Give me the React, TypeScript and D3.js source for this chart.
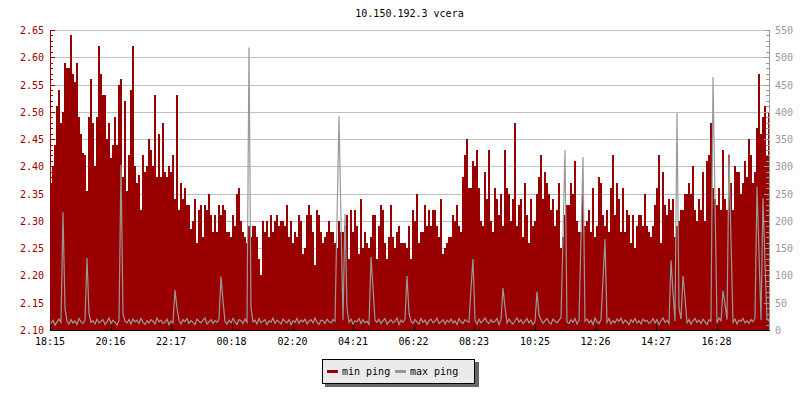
import React from "react";
import * as d3 from "d3";

const title = "10.150.192.3 vcera";
const tickLabels = ["18:15","20:16","22:17","00:18","02:20","04:21","06:22","08:23","10:25","12:26","14:27","16:28"];
const tickMinutes = [0,121,242,363,485,606,727,848,970,1091,1212,1333];
const stepMinutes = 4;

// min ping (ms), one value per 4 minutes
const minPing = [
2.37,2.40,2.44,2.51,2.54,2.48,2.50,2.59,2.58,2.58,2.64,2.57,2.555,2.59,2.49,2.46,2.425,2.42,2.355,2.49,
2.56,2.48,2.40,2.49,2.62,2.57,2.53,2.53,2.45,2.48,2.415,2.44,2.49,2.44,2.55,2.56,2.38,2.52,2.355,2.42,
2.54,2.62,2.40,2.37,2.385,2.32,2.42,2.39,2.40,2.45,2.43,2.40,2.53,2.38,2.46,2.38,2.48,2.39,2.38,2.40,
2.39,2.42,2.34,2.53,2.32,2.37,2.34,2.36,2.33,2.33,2.285,2.30,2.34,2.26,2.32,2.33,2.27,2.33,2.32,2.35,
2.31,2.28,2.31,2.28,2.33,2.31,2.33,2.32,2.28,2.28,2.27,2.31,2.29,2.35,2.36,2.30,2.28,2.27,2.26,2.29,
2.27,2.29,2.29,2.27,2.23,2.20,2.30,2.28,2.30,2.27,2.31,2.28,2.30,2.31,2.29,2.30,2.30,2.29,2.33,2.27,
2.30,2.26,2.28,2.27,2.31,2.30,2.24,2.25,2.31,2.33,2.31,2.28,2.22,2.32,2.31,2.28,2.26,2.27,2.28,2.30,
2.28,2.28,2.26,2.25,2.30,2.28,2.28,2.29,2.31,2.23,2.32,2.28,2.32,2.29,2.24,2.34,2.25,2.28,2.26,2.25,
2.27,2.31,2.31,2.23,2.29,2.33,2.32,2.26,2.23,2.27,2.33,2.27,2.25,2.28,2.29,2.26,2.26,2.26,2.25,2.29,
2.23,2.32,2.30,2.35,2.26,2.28,2.28,2.33,2.29,2.32,2.29,2.32,2.32,2.29,2.27,2.34,2.24,2.25,2.26,2.27,
2.27,2.31,2.30,2.33,2.29,2.28,2.38,2.42,2.45,2.36,2.36,2.41,2.40,2.43,2.36,2.30,2.29,2.39,2.34,2.43,
2.30,2.28,2.36,2.34,2.31,2.35,2.29,2.43,2.36,2.35,2.30,2.34,2.48,2.29,2.33,2.34,2.27,2.37,2.31,2.26,
2.34,2.29,2.30,2.35,2.38,2.42,2.34,2.39,2.37,2.35,2.32,2.34,2.29,2.32,2.37,2.25,2.27,2.31,2.33,2.33,
2.37,2.35,2.41,2.30,2.28,2.28,2.35,2.29,2.30,2.32,2.28,2.36,2.27,2.29,2.38,2.37,2.31,2.29,2.32,2.28,
2.36,2.42,2.31,2.37,2.34,2.28,2.36,2.28,2.32,2.31,2.26,2.31,2.25,2.29,2.31,2.31,2.29,2.35,2.29,2.28,
2.27,2.29,2.33,2.36,2.42,2.26,2.39,2.33,2.31,2.34,2.32,2.34,2.27,2.29,2.30,2.32,2.32,2.35,2.35,2.37,
2.35,2.40,2.32,2.30,2.34,2.32,2.39,2.30,2.41,2.42,2.48,2.36,2.34,2.33,2.36,2.32,2.43,2.34,2.32,2.42,
2.37,2.32,2.40,2.39,2.39,2.35,2.37,2.41,2.38,2.45,2.42,2.37,2.39,2.47,2.57,2.46,2.49,2.51,2.42,2.50
];

// max ping (ms), one value per 4 minutes
const maxPing = [
12,18,9,15,20,14,216,40,16,11,19,13,17,10,21,15,12,18,132,30,
14,17,11,20,13,16,19,10,15,22,12,18,14,9,17,303,30,16,13,19,
11,20,15,18,12,21,14,10,17,13,19,16,11,22,15,18,12,14,20,10,
16,13,73,40,18,11,19,15,21,12,17,14,10,20,16,13,18,22,11,15,
19,12,17,14,20,98,53,16,11,18,13,21,15,10,19,17,12,20,14,518,
40,15,18,11,21,13,16,19,10,17,14,22,12,18,15,11,20,16,13,19,
10,17,14,21,12,18,15,20,11,16,19,13,22,14,10,18,17,12,20,15,
13,19,16,200,392,200,18,213,40,14,20,11,17,15,21,12,19,13,16,10,
134,77,18,14,20,12,17,21,11,15,19,13,16,22,10,18,14,20,99,31,
16,12,19,15,11,21,14,18,10,17,20,13,16,22,12,15,19,11,18,14,
20,13,17,10,21,15,12,19,16,14,77,130,18,11,20,13,17,22,15,12,
19,14,16,21,10,18,77,42,13,20,15,11,17,22,14,19,12,16,21,13,
18,10,15,70,27,19,12,17,21,14,11,20,16,13,18,22,170,330,15,12,
19,14,21,11,17,170,317,16,20,13,18,10,22,15,12,19,93,167,14,21,
11,17,13,20,16,22,12,18,15,10,19,14,21,13,17,11,20,16,18,12,
15,21,13,19,10,17,22,14,18,12,128,70,16,398,40,20,99,60,13,19,
11,17,21,14,18,12,20,15,10,19,16,464,242,13,22,17,72,48,19,323,
165,14,20,11,18,16,21,13,17,12,19,15,22,263,141,18,242,123,20,16
];

const leftTicks = [2.10,2.15,2.20,2.25,2.30,2.35,2.40,2.45,2.50,2.55,2.60,2.65];
const rightTicks = [0,50,100,150,200,250,300,350,400,450,500,550];
const legendItems = ["min ping","max ping"];

const RED = "#990000";
const GREY = "#999999";
const FONT = "'DejaVu Sans Mono', monospace";

export default function App() {
  const x = d3.scaleLinear().domain([0, 1440]).range([50, 770]);
  const yL = d3.scaleLinear().domain([2.10, 2.65]).range([330, 30]);
  const yR = d3.scaleLinear().domain([0, 550]).range([330, 30]);

  const minorL = d3.range(0, 56).map((k) => 2.10 + k * 0.01);
  const minorR = d3.range(0, 56).map((k) => k * 10);

  const linePath = d3.line<number>()
    .x((_, i) => x(i * stepMinutes + stepMinutes / 2))
    .y((v) => yR(v))(maxPing) || "";

  const bw = x(stepMinutes) - x(0);

  return (
    <svg width={800} height={400} style={{ position: "absolute", left: 0, top: 0, background: "#fff" }}
      fontFamily={FONT} fontSize={10}>
      <rect x={0} y={0} width={800} height={400} fill="#fff" />
      <text x={409.5} y={17} textAnchor="middle" fill="#000">{title}</text>
      {/* grid */}
      {leftTicks.slice(1).map((t) => (
        <line key={"g" + t} x1={50} x2={770} y1={Math.round(yL(t)) + 0.5} y2={Math.round(yL(t)) + 0.5}
          stroke="#c0c0c0" strokeWidth={1} />
      ))}
      {/* min ping bars */}
      <g shapeRendering="crispEdges">
        {minPing.map((v, i) => (
          <rect key={i} x={x(i * stepMinutes)} width={bw} y={yL(v)} height={yL(2.10) - yL(v)} fill={RED} />
        ))}
      </g>
      {/* max ping line */}
      <path d={linePath} fill="none" stroke={GREY} strokeWidth={1.2} strokeLinejoin="miter" />
      {/* axes */}
      <g shapeRendering="crispEdges">
        <line x1={50.5} x2={50.5} y1={30} y2={330} stroke={RED} />
        {minorL.map((t, k) => (
          <line key={"ml" + k} x1={50} x2={k % 5 === 0 ? 55 : 53} y1={Math.round(yL(t)) + 0.5} y2={Math.round(yL(t)) + 0.5} stroke={RED} />
        ))}
        <line x1={769.5} x2={769.5} y1={30} y2={330} stroke={GREY} />
        {minorR.map((t, k) => (
          <line key={"mr" + k} x1={k % 5 === 0 ? 764 : 766} x2={770} y1={Math.round(yR(t)) + 0.5} y2={Math.round(yR(t)) + 0.5} stroke={GREY} />
        ))}
        <line x1={50} x2={770} y1={330.5} y2={330.5} stroke="#000" />
        {tickMinutes.map((m) => (
          <line key={"bt" + m} x1={Math.round(x(m)) + 0.5} x2={Math.round(x(m)) + 0.5} y1={325} y2={331} stroke="#000" />
        ))}
      </g>
      {leftTicks.map((t) => (
        <text key={"lt" + t} x={44} y={yL(t) + 4} textAnchor="end" fill={RED}>{t.toFixed(2)}</text>
      ))}
      {rightTicks.map((t) => (
        <text key={"rt" + t} x={775} y={yR(t) + 4} textAnchor="start" fill={GREY}>{t}</text>
      ))}
      {tickLabels.map((l, k) => (
        <text key={"xl" + l} x={x(tickMinutes[k])} y={345} textAnchor="middle" fill="#000">{l}</text>
      ))}
      {/* legend */}
      <g shapeRendering="crispEdges">
        <rect x={325} y={362} width={154} height={25} fill="#666" />
        <rect x={322.5} y={359.5} width={152} height={24} fill="#ebebeb" stroke="#000" strokeWidth={1} />
        <rect x={327} y={370} width={11} height={3} fill={RED} />
        <rect x={395} y={370} width={11} height={3} fill={GREY} />
      </g>
      <text x={342} y={375} fill="#000">{legendItems[0]}</text>
      <text x={410} y={375} fill="#000">{legendItems[1]}</text>
    </svg>
  );
}
